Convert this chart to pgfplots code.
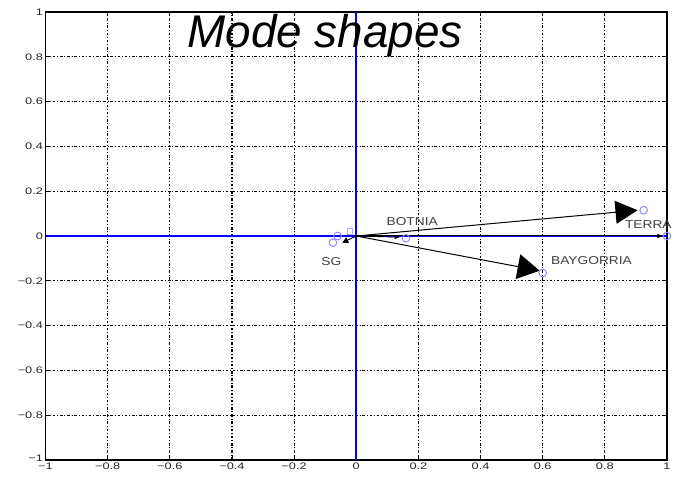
\documentclass[border=0pt]{standalone}
\usepackage{fontspec}
\setmainfont{Liberation Sans}
\newfontfamily\tickfont[FakeStretch=1.35]{Liberation Sans}
\newfontfamily\lblfont[FakeStretch=1.2]{Liberation Sans}
\usepackage{pgfplots}
\pgfplotsset{compat=1.18}
\usetikzlibrary{arrows.meta}
\definecolor{mblue}{rgb}{0,0,1}
\definecolor{circ}{rgb}{0.55,0.55,1}
\begin{document}
\begin{tikzpicture}
\begin{axis}[
  scale only axis,
  width=621.5bp, height=448bp,
  xmin=-1, xmax=1, ymin=-1, ymax=1,
  xtick={-1,-0.8,...,1.01}, ytick={-1,-0.8,...,1.01},
  xticklabels={{\char"2212 1},{\char"2212 0.8},{\char"2212 0.6},{\char"2212 0.4},{\char"2212 0.2},0,0.2,0.4,0.6,0.8,1},
  yticklabels={{\raisebox{4bp}{\char"2212 1}},{\char"2212 0.8},{\char"2212 0.6},{\char"2212 0.4},{\char"2212 0.2},0,0.2,0.4,0.6,0.8,1},
  ticklabel style={font=\tickfont\fontsize{9.5}{10}\selectfont, text=black!85},
  xticklabel style={yshift=1bp},
  yticklabel style={xshift=1bp},
  grid=major,
  major grid style={black, line width=1.1bp, dash pattern=on 2.6bp off 1.8bp on 1bp off 1.8bp},
  tick style={black, line width=0.8bp},
  major tick length=4bp,
  tick align=inside,
  axis line style={black, line width=1.5bp},
  clip=false,
]
\addplot [mblue, line width=1.6bp] coordinates {(-1,0) (1,0)};
\addplot [mblue, line width=1.6bp] coordinates {(0,-1) (0,1)};
% arrows
\addplot [black, line width=1bp, -{Triangle[length=5bp,width=4bp]}] coordinates {(0,0) (0.985,0)};
\addplot [black, line width=1bp, -{Triangle[length=22bp,width=23bp]}] coordinates {(0,0) (0.905,0.115)};
\addplot [black, line width=1bp, -{Triangle[length=22bp,width=25bp]}] coordinates {(0,0) (0.59,-0.155)};
\addplot [black, line width=0.9bp, -{Triangle[length=5bp,width=4bp]}] coordinates {(0,0) (0.14,-0.005)};
\addplot [black, line width=0.9bp, -{Triangle[length=6bp,width=6bp]}] coordinates {(0,0) (-0.045,-0.03)};
% markers
\addplot [only marks, mark=o, mark size=3.8bp, circ, line width=1bp] coordinates {
 (0.925,0.115) (0.6,-0.165) (0.16,-0.01) (-0.06,0.0) (-0.075,-0.03) (1,0)};
\addplot [only marks, mark=square, mark size=2.8bp, circ!70, line width=0.8bp] coordinates {(-0.02,0.02)};
% labels
\node [font=\lblfont\fontsize{11.5}{12}\selectfont, text=black!75] at (axis cs:0.94,0.05) {TERRA};
\node [font=\lblfont\fontsize{11.5}{12}\selectfont, text=black!75] at (axis cs:0.757,-0.11) {BAYGORRIA};
\node [font=\lblfont\fontsize{11.5}{12}\selectfont, text=black!75] at (axis cs:0.18,0.063) {BOTNIA};
\node [font=\lblfont\fontsize{11.5}{12}\selectfont, text=black!75] at (axis cs:-0.08,-0.115) {SG};
\node [anchor=base, font=\fontsize{46}{50}\selectfont\itshape] at (axis cs:-0.1,0.84) {Mode shapes};
\end{axis}
\path (current axis.south west) ++(-45.5bp,-19bp) coordinate (bbA);
\path (current axis.north east) ++(12bp,12bp) coordinate (bbB);
\useasboundingbox (bbA) rectangle (bbB);
\end{tikzpicture}
\end{document}
